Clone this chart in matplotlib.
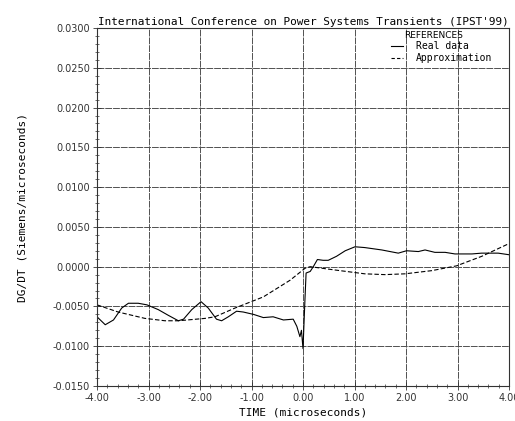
from matplotlib.ticker import MultipleLocator, FormatStrFormatter
from matplotlib import pyplot as plt
import matplotlib
matplotlib.use('Agg')

# real data (time in microseconds, DG/DT)
t_real = [-4.00, -3.84, -3.68, -3.52, -3.39, -3.20, -3.03, -2.81, -2.62, -2.42,
          -2.32, -2.16, -1.98, -1.84, -1.68, -1.58, -1.45, -1.29, -1.16, -0.96,
          -0.77, -0.58, -0.38, -0.19, -0.12, -0.06, -0.03, 0.00, 0.04, 0.06,
          0.14, 0.20, 0.28, 0.39, 0.49, 0.65, 0.82, 1.01, 1.20, 1.53,
          1.85, 2.01, 2.24, 2.37, 2.56, 2.76, 2.95, 3.28, 3.47, 3.79, 4.00]
g_real = [-0.0063, -0.0073, -0.0067, -0.0052, -0.0046, -0.0046, -0.0048, -0.0054, -0.0061, -0.0068,
          -0.0066, -0.0054, -0.0044, -0.0052, -0.0066, -0.0068, -0.0063, -0.0056, -0.0057, -0.0060,
          -0.0064, -0.0063, -0.0067, -0.0066, -0.0075, -0.0088, -0.0080, -0.0103, -0.0038, -0.0008,
          -0.0006, 0.0000, 0.0009, 0.0008, 0.0008, 0.0013, 0.0020, 0.0025, 0.0024, 0.0021,
          0.0017, 0.0020, 0.0019, 0.0021, 0.0018, 0.0018, 0.0016, 0.0016, 0.0017, 0.0017, 0.0015]

# approximation
t_appr = [-4.00, -3.59, -3.07, -2.68, -2.42, -1.90, -1.71, -1.32, -0.77, -0.25,
          0.04, 0.14, 0.60, 1.20, 1.59, 1.98, 2.50, 2.98, 3.47, 4.00]
g_appr = [-0.0048, -0.0057, -0.0065, -0.0068, -0.0068, -0.0065, -0.0063, -0.0052, -0.0038, -0.0017,
          -0.0002, 0.0000, -0.0004, -0.0009, -0.0010, -0.0009, -0.0005, 0.0001, 0.0013, 0.0029]

mono = 'DejaVu Sans Mono'

fig = plt.figure(figsize=(5.15, 4.21), dpi=100)
ax = fig.add_axes([97 / 515, 1 - 386 / 421, 412 / 515, 358 / 421])

ax.plot(t_real, g_real, color='black', linewidth=0.8, linestyle='solid')
ax.plot(t_appr, g_appr, color='black', linewidth=0.8, linestyle=(0, (4, 2)))

ax.set_xlim(-4, 4)
ax.set_ylim(-0.015, 0.03)
ax.xaxis.set_major_locator(MultipleLocator(1))
ax.xaxis.set_minor_locator(MultipleLocator(0.2))
ax.yaxis.set_major_locator(MultipleLocator(0.005))
ax.yaxis.set_minor_locator(MultipleLocator(0.001))
ax.xaxis.set_major_formatter(FormatStrFormatter('%.2f'))
ax.yaxis.set_major_formatter(FormatStrFormatter('%.4f'))
ax.tick_params(which='both', direction='inout', labelsize=7, colors='#333333', pad=2)
ax.tick_params(which='major', length=6, width=0.6)
ax.tick_params(which='minor', length=3, width=0.5)
for s in ax.spines.values():
    s.set_linewidth(0.8)
    s.set_color('#333333')

ax.grid(True, which='major', color='#505050', linewidth=0.7, linestyle=(0, (7, 1)))

ax.set_title("International Conference on Power Systems Transients (IPST'99)",
             family=mono, fontsize=7.9, pad=2)
ax.set_xlabel('TIME (microseconds)', family=mono, fontsize=8, labelpad=3)
ax.set_ylabel('DG/DT (Siemens/microseconds)', family=mono, fontsize=8, labelpad=18)

# legend
ax.text(1.97, 0.0296, 'REFERENCES', family='DejaVu Sans', fontsize=6.5, va='top', ha='left')
ax.plot([1.70, 1.95], [0.0277, 0.0277], color='black', linewidth=0.8)
ax.plot([1.70, 1.95], [0.0262, 0.0262], color='black', linewidth=0.8, linestyle=(0, (3, 2)))
ax.text(2.20, 0.0277, 'Real data', family=mono, fontsize=7, va='center', ha='left')
ax.text(2.20, 0.0262, 'Approximation', family=mono, fontsize=7, va='center', ha='left')

plt.savefig('out.png', dpi=100)
